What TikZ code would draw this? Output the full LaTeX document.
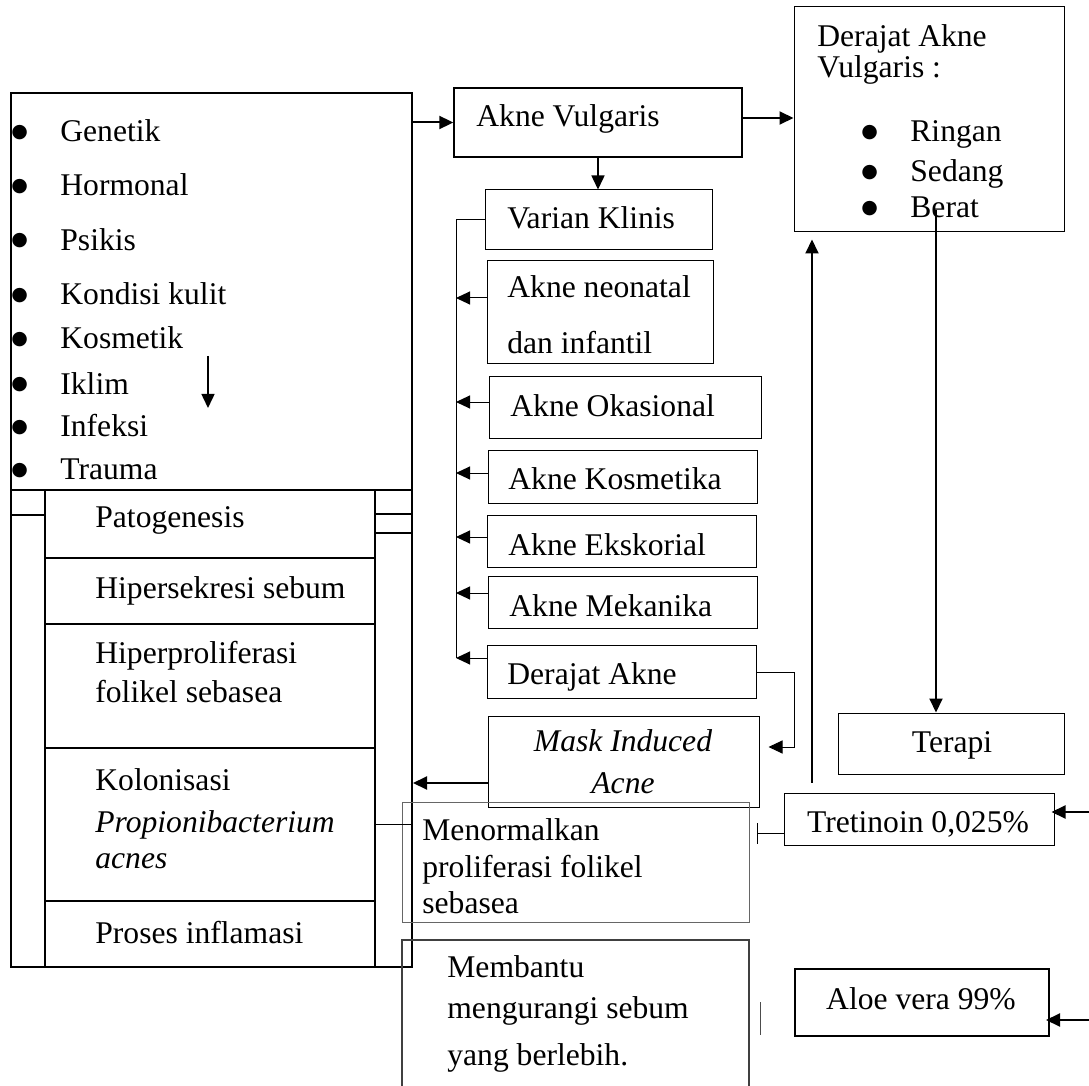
\documentclass[tikz,border=0pt]{standalone}
\usepackage{fontspec}
\setmainfont{Liberation Serif}
\newfontfamily\symfont{DejaVu Sans}
\usetikzlibrary{arrows.meta,fit}

\newcommand{\bulit}[1]{\makebox[24.5pt][l]{\raisebox{2pt}{\symfont\fontsize{9.5}{10}\selectfont ●}}#1}

\begin{document}
\begin{tikzpicture}[
  x=0.5pt, y=-0.5pt,
  >={Triangle[length=7pt,width=6.5pt]},
  every node/.append style={font=\fontsize{15.8}{19}\selectfont},
  box/.style={draw, inner sep=0pt, line width=0.5pt},
  thickbox/.style={box, line width=1pt},
  lbl/.style={anchor=west, inner sep=0pt, text height=11pt, text depth=3pt},
  mid/.style={lbl, anchor=center},
  arr/.style={->, line width=0.5pt},
  thickarr/.style={->, line width=1pt}
]
\useasboundingbox (0,0) rectangle (1089,1086);

% left block: factors and pathogenesis
\node[thickbox, fit={(11,93)(412,967)}] (outer) {};
\node[thickbox, fit={(11,93)(412,490)}] (fac)   {};
\node[lbl] (gen)  at (11,134) {\bulit{Genetik}};
\node[lbl] (horm) at (11,188) {\bulit{Hormonal}};
\node[lbl] (psik) at (11,242) {\bulit{Psikis}};
\node[lbl] (kond) at (11,297) {\bulit{Kondisi kulit}};
\node[lbl] (kosmf) at (11,341) {\bulit{Kosmetik}};
\node[lbl] (iklim) at (11,386) {\bulit{Iklim}};
\node[lbl] (infek) at (11,429) {\bulit{Infeksi}};
\node[lbl] (traum) at (11,472) {\bulit{Trauma}};

\node[thickbox, fit={(45,490)(375,558)}] (pato)   {};
\node[thickbox, fit={(45,558)(375,624)}] (sebum)  {};
\node[thickbox, fit={(45,624)(375,748)}] (prolif) {};
\node[thickbox, fit={(45,748)(375,901)}] (kolo)   {};
\node[thickbox, fit={(45,901)(375,967)}] (inflam) {};
\node[lbl] (patot)    at (95,519) {Patogenesis};
\node[lbl] (sebumt)   at (95,590) {Hipersekresi sebum};
\node[lbl] (prolift)  at (95,655) {Hiperproliferasi};
\node[lbl] (prolift2) at (95,694) {folikel sebasea};
\node[lbl] (kolot)    at (95,782) {Kolonisasi};
\node[lbl] (kolot2)   at (95,824) {\itshape Propionibacterium};
\node[lbl] (kolot3)   at (95,860) {\itshape acnes};
\node[lbl] (inflamt)  at (95,935) {Proses inflamasi};

\draw[line width=1pt] (outer.west |- 0,515) -- (pato.west |- 0,515);
\draw[line width=1pt] (pato.east |- 0,514) -- (outer.east |- 0,514);
\draw[line width=1pt] (pato.east |- 0,533) -- (outer.east |- 0,533);
\draw[arr, line width=0.75pt] (208,356) -- (208,408);

% middle column: acne variants
\node[box, line width=0.7pt, fit={(454,88)(742,157)}] (vulg) {};
\node[lbl] (vulgt) at (476,119) {Akne Vulgaris};
\node[box, fit={(485,190)(712,250)}] (varian) {};
\node[lbl] (variant) at (507,221) {Varian Klinis};
\node[box, fit={(487,261)(713,364)}] (neo) {};
\node[lbl] (neot)  at (507,290) {Akne neonatal};
\node[lbl] (neot2) at (507,346) {dan infantil};
\node[box, fit={(489,377)(761,438)}] (okas) {};
\node[lbl] (okast) at (510,408) {Akne Okasional};
\node[box, fit={(488,450)(757,503)}] (kosm) {};
\node[lbl] (kosmt) at (508,481) {Akne Kosmetika};
\node[box, fit={(487,515)(756,567)}] (eksk) {};
\node[lbl] (ekskt) at (508,547) {Akne Ekskorial};
\node[box, fit={(488,576)(757,628)}] (mekan) {};
\node[lbl] (mekant) at (509,608) {Akne Mekanika};
\node[box, fit={(487,645)(756,698)}] (dak) {};
\node[lbl] (dakt) at (507,676) {Derajat Akne};
\node[box, fit={(488,716)(759,807)}] (mask) {};
\node[mid] (maskt)  at (623,743) {\itshape Mask Induced};
\node[mid] (maskt2) at (623,785) {\itshape Acne};

% right column: grade and therapy
\node[box, fit={(794,7)(1064,232)}] (grade) {};
\node[lbl] (gradet)  at (817,39) {Derajat Akne};
\node[lbl] (gradet2) at (817,70) {Vulgaris :};
\node[lbl] (ringan) at (861,134) {\bulit{Ringan}};
\node[lbl] (sedang) at (861,174) {\bulit{Sedang}};
\node[lbl] (berat)  at (861,210) {\bulit{Berat}};
\node[box, fit={(838,713)(1064,774)}] (terapi) {};
\node[mid] (terapit) at (952,744) {Terapi};
\node[box, fit={(784,793)(1054,845)}] (treti) {};
\node[mid] (tretit) at (918,824) {Tretinoin 0,025\%};
\node[thickbox, fit={(795,969)(1049,1036)}] (aloe) {};
\node[mid] (aloet) at (921,1001) {Aloe vera 99\%};

% effects
\node[box, draw=black!60, fit={(402,802)(749,922)}] (menor) {};
\node[lbl] (menort)  at (422,832) {Menormalkan};
\node[lbl] (menort2) at (422,869) {proliferasi folikel};
\node[lbl] (menort3) at (422,905) {sebasea};
\node[thickbox, draw=black!75, fit={(402,940)(749,1100)}] (memb) {};
\node[lbl] (membt)  at (447,969) {Membantu};
\node[lbl] (membt2) at (447,1010) {mengurangi sebum};
\node[lbl] (membt3) at (447,1057) {yang berlebih.};

\coordinate (spine) at (456,220);
\coordinate (inT) at (1089,812);
\coordinate (inA) at (1089,1020);

\draw[thickarr] (vulg.west -| outer.east) -- (vulg.west);
\draw[thickarr] (vulg.east |- 0,118) -- (grade.west |- 0,118);
\draw[arr, line width=0.75pt] (vulg.south) -- (varian.north -| vulg.south);
\draw[line width=0.5pt] (varian.west) -- (spine) -- (spine |- 0,658);
\foreach \nd/\yy in {neo/298, okas/402, kosm/473, eksk/537, mekan/593, dak/658}
  \draw[arr] (\nd.west |- 0,\yy) -- (spine |- 0,\yy);
\draw[arr, shorten >=4.5pt] (dak.east |- 0,672) -- (794,672) |- (mask.east |- 0,747);
\draw[thickarr] (mask.west |- 0,783) -- (outer.east |- 0,783);
\draw[line width=0.5pt] (kolo.east |- 0,824) -- (outer.east |- 0,824);
\draw[thickarr] (berat.west -| 936,0) -- (terapi.north -| 936,0);
\draw[thickarr, shorten <=5pt, shorten >=3.5pt] (treti.north -| 812,0) -- (grade.south -| 812,0);
\draw[-{Bar[width=10.5pt]}, line width=0.5pt, shorten >=3.5pt] (treti.west |- 0,833) -- (menor.east |- 0,833);
\draw[thickarr, shorten >=-1.5pt] (inT) -- (treti.east |- inT);
\draw[thickarr, shorten >=-2pt] (inA) -- (aloe.east |- inA);
\draw[line width=0.5pt, black!70] (760,1002) -- (760,1035);
\end{tikzpicture}
\end{document}
